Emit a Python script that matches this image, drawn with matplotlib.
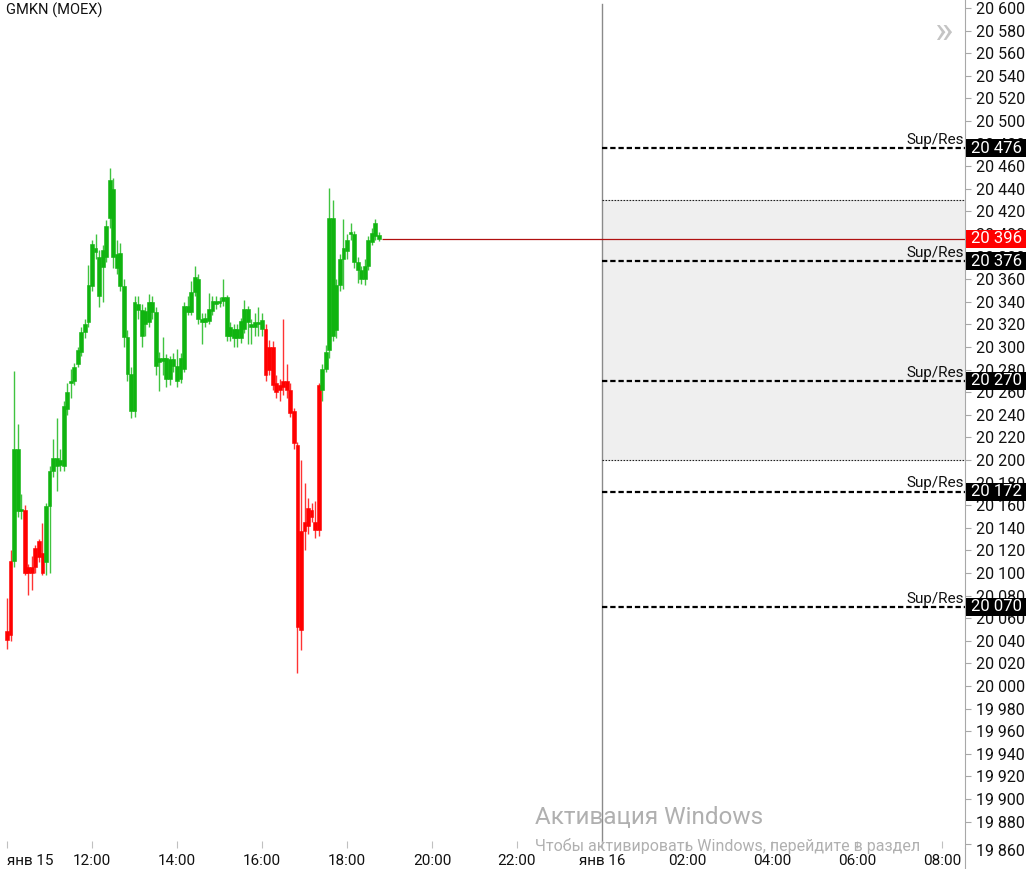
import matplotlib
matplotlib.use('Agg')
import matplotlib.pyplot as plt
import matplotlib.dates as mdates
from matplotlib import transforms
from matplotlib.patches import Rectangle
from matplotlib.lines import Line2D
from datetime import datetime, timedelta

plt.rcParams['font.family'] = ['Roboto', 'DejaVu Sans']

# 5-minute candles, GMKN, Jan 15 from 10:00
opens = [20041, 20045, 20111, 20210, 20155, 20156, 20100, 20105, 20105, 20114,
         20118, 20110, 20159, 20190, 20202, 20196, 20195, 20245, 20268, 20270,
         20285, 20296, 20313, 20322, 20354, 20388, 20380, 20371, 20380, 20414,
         20440, 20382, 20383, 20354, 20309, 20276, 20243, 20338, 20333, 20332,
         20322, 20340, 20331, 20290, 20288, 20290, 20272, 20289, 20283, 20272,
         20281, 20336, 20331, 20349, 20360, 20325, 20322, 20323, 20332, 20341,
         20339, 20341, 20344, 20310, 20316, 20308, 20308, 20316, 20334, 20320,
         20318, 20322, 20316,
         20316, 20280, 20300, 20268, 20262, 20265, 20270, 20262, 20243, 20213,
         20050, 20137, 20142, 20156, 20145, 20138,
         20262, 20281, 20297, 20414, 20315, 20355, 20378, 20385, 20400, 20400,
         20375, 20368, 20360, 20372, 20393, 20398, 20399]
highs = [20078, 20120, 20279, 20232, 20170, 20160, 20108, 20115, 20125, 20130,
         20144, 20162, 20195, 20219, 20237, 20210, 20252, 20268, 20281, 20286,
         20300, 20318, 20325, 20373, 20395, 20400, 20386, 20390, 20412, 20458,
         20450, 20395, 20392, 20360, 20315, 20282, 20345, 20345, 20338, 20335,
         20347, 20345, 20335, 20296, 20309, 20294, 20292, 20295, 20298, 20295,
         20340, 20345, 20358, 20372, 20365, 20330, 20330, 20348, 20345, 20345,
         20344, 20360, 20346, 20322, 20320, 20320, 20326, 20342, 20336, 20325,
         20330, 20335, 20330,
         20320, 20306, 20305, 20275, 20272, 20325, 20285, 20268, 20246, 20216,
         20200, 20180, 20166, 20162, 20164, 20268,
         20285, 20302, 20441, 20430, 20360, 20382, 20413, 20400, 20410, 20403,
         20380, 20372, 20378, 20398, 20405, 20413, 20402]
lows = [20033, 20040, 20105, 20150, 20148, 20098, 20081, 20085, 20100, 20110,
        20098, 20098, 20100, 20185, 20173, 20190, 20190, 20240, 20255, 20266,
        20282, 20292, 20308, 20318, 20350, 20378, 20335, 20340, 20375, 20405,
        20370, 20365, 20350, 20300, 20270, 20237, 20238, 20325, 20300, 20310,
        20318, 20325, 20275, 20261, 20275, 20265, 20266, 20278, 20265, 20268,
        20278, 20328, 20328, 20345, 20320, 20303, 20318, 20320, 20328, 20334,
        20335, 20336, 20305, 20305, 20300, 20300, 20304, 20312, 20303, 20303,
        20310, 20310, 20310,
        20270, 20275, 20262, 20255, 20252, 20258, 20255, 20238, 20210, 20012,
        20032, 20120, 20135, 20145, 20131, 20133,
        20252, 20278, 20290, 20305, 20308, 20350, 20351, 20378, 20395, 20370,
        20357, 20356, 20355, 20368, 20390, 20395, 20394]
closes = [20049, 20111, 20210, 20155, 20157, 20100, 20105, 20100, 20122, 20128,
          20100, 20159, 20190, 20202, 20195, 20200, 20248, 20260, 20270, 20282,
          20297, 20313, 20320, 20355, 20391, 20384, 20345, 20386, 20407, 20448,
          20380, 20370, 20354, 20309, 20276, 20243, 20340, 20333, 20310, 20320,
          20340, 20331, 20283, 20287, 20290, 20272, 20289, 20283, 20270, 20290,
          20336, 20331, 20349, 20362, 20325, 20322, 20326, 20334, 20341, 20338,
          20341, 20344, 20310, 20318, 20308, 20316, 20323, 20334, 20322, 20318,
          20322, 20320, 20324,
          20275, 20300, 20266, 20260, 20266, 20270, 20262, 20242, 20215, 20052,
          20137, 20145, 20158, 20150, 20138, 20266,
          20281, 20296, 20414, 20310, 20355, 20378, 20388, 20395, 20402, 20375,
          20368, 20360, 20372, 20395, 20401, 20410, 20396]
trend = list('rrgggrrrrrr' + 'g' * 62 + 'r' * 16 + 'g' * 17)

levels = [20476, 20376, 20270, 20172, 20070]
zone = (20200, 20430)
last_price = 20396

xtick_labels = ['янв 15', '12:00', '14:00', '16:00', '18:00', '20:00', '22:00',
                'янв 16', '02:00', '04:00', '06:00', '08:00']

start = datetime(2025, 1, 15, 10, 0)
times = [start + timedelta(minutes=5 * i) for i in range(len(opens))]
day2 = datetime(2025, 1, 16, 0, 0)

green = '#10b410'
red = '#ff0000'
colors = [green if t == 'g' else red for t in trend]

fig = plt.figure(figsize=(10.26, 8.69), dpi=100)
ax = fig.add_axes([0, 21 / 869, 965 / 1026, 848 / 869])

xn = mdates.date2num(times)
ax.vlines(xn, lows, highs, colors=colors, linewidth=1.0, alpha=0.8, zorder=3)
bottoms = [min(o, c) for o, c in zip(opens, closes)]
heights = [max(abs(c - o), 1.5) for o, c in zip(opens, closes)]
ax.bar(xn, heights, bottom=bottoms, width=5.4 / 1440, color=colors,
       edgecolor=colors, linewidth=0.4, zorder=4)

xmin = start - timedelta(minutes=9.9)
xmax = day2 + timedelta(hours=8, minutes=32.5)
ax.set_xlim(xmin, xmax)
ax.set_ylim(19856.7, 20607.1)

# new-day separator and level zone
ax.axvline(day2, ymin=0.007, ymax=0.995, color='#8a8a8a', linewidth=1.0, zorder=1)
ax.add_patch(Rectangle((mdates.date2num(day2), zone[0]),
                       mdates.date2num(xmax) - mdates.date2num(day2),
                       zone[1] - zone[0], facecolor='#efefef', edgecolor='none', zorder=0))
for z in zone:
    ax.hlines(z, day2, xmax, colors='#222222', linewidth=0.8, linestyles=(0, (1.5, 1.2)), zorder=2)

for lv in levels:
    ax.hlines(lv, day2, xmax, colors='black', linewidth=1.6, linestyles=(0, (2.4, 1.3)), zorder=2)
    ax.annotate('Sup/Res', xy=(1, lv), xycoords=('axes fraction', 'data'),
                xytext=(-0.5, 1.0), textcoords='offset points', ha='right', va='bottom',
                fontsize=11, color='#111111')

# current price line
ax.hlines(last_price, times[-1] + timedelta(minutes=4), xmax, colors='#b01010',
          linewidth=0.9, zorder=2)

# axes styling
for s in ['top', 'left', 'bottom']:
    ax.spines[s].set_visible(False)
ax.spines['right'].set_color('#a8a8a8')
ax.yaxis.tick_right()
yt = list(range(19860, 20601, 20))
ax.set_yticks(yt)
ax.set_yticklabels([f'{v:,}'.replace(',', ' ') for v in yt])
ax.tick_params(axis='y', direction='out', length=4, width=0.8, colors='#a8a8a8',
               labelcolor='#111111', labelsize=11.5, pad=4)
xt = [start + timedelta(hours=2 * i) for i in range(len(xtick_labels))]
ax.set_xticks(mdates.date2num(xt))
ax.set_xticklabels(xtick_labels)
ax.tick_params(axis='x', direction='in', length=5, width=0.8, colors='#c0c0c0',
               labelcolor='#111111', labelsize=11, pad=4)
ax.get_xticklabels()[0].set_ha('left')
ax.get_xticklabels()[0].set_x(mdates.date2num(xmin))
for lab in ax.get_yticklabels():
    if lab.get_text() == '19 860':
        lab.set_va('top')

# extend axis line to the bottom of the figure
fig.add_artist(Line2D([965 / 1026, 965 / 1026], [0, 21 / 869], color='#a8a8a8', linewidth=0.8))

# price tags on the axis
tr = transforms.blended_transform_factory(fig.transFigure, ax.transData)
for lv, bg in [(l, 'black') for l in levels] + [(last_price, red)]:
    ax.add_patch(Rectangle((966 / 1026, lv - 8.0), 60 / 1026, 16.0, transform=tr,
                           facecolor=bg, edgecolor='none', clip_on=False, zorder=10))
    ax.text(971 / 1026, lv, f'{lv:,}'.replace(',', ' '), transform=tr, color='white',
            fontsize=12, ha='left', va='center', clip_on=False, zorder=11)

fig.text(6 / 1026, 1 - 10 / 869, 'GMKN (MOEX)', fontsize=10.5, va='center', ha='left',
         color='#111111')
fig.text(943 / 1026, 1 - 33 / 869, '»', fontsize=28, color='#c4c4c4', va='center',
         ha='center')

# Windows activation watermark visible on the screenshot
fig.text(535 / 1026, 1 - 818 / 869, 'Активация Windows', fontsize=17.5, color='#b0b0b0',
         ha='left', va='center')
fig.text(535 / 1026, 1 - 846 / 869, 'Чтобы активировать Windows, перейдите в раздел',
         fontsize=11.5, color='#b0b0b0', ha='left', va='center')

fig.savefig('out.png', dpi=100)
